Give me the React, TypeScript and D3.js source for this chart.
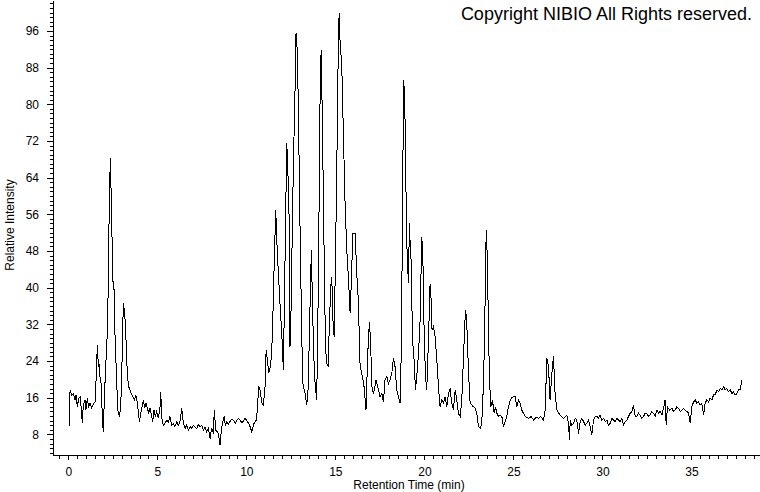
import { useEffect, useRef } from "react";
import * as d3 from "d3";

// retention time (min) and relative intensity
const retentionTime = [
  0.04, 0.10, 0.19, 0.28, 0.38, 0.43, 0.51, 0.58, 0.66, 0.71,
  0.79, 0.84, 0.94, 0.99, 1.07, 1.14, 1.22, 1.31, 1.41, 1.50,
  1.56, 1.63, 1.69, 1.74, 1.78, 1.84, 1.89, 1.93, 1.97, 2.02,
  2.10, 2.19, 2.25, 2.30, 2.36, 2.40, 2.45, 2.50, 2.57, 2.62,
  2.72, 2.78, 2.87, 2.94, 2.99, 3.09, 3.17, 3.24, 3.32, 3.39,
  3.50, 3.62, 3.71, 3.79, 3.88, 3.99, 4.07, 4.14, 4.22, 4.29,
  4.37, 4.44, 4.52, 4.59, 4.68, 4.74, 4.81, 4.89, 4.96, 5.06,
  5.15, 5.19, 5.25, 5.34, 5.43, 5.53, 5.62, 5.71, 5.81, 5.90,
  5.99, 6.09, 6.18, 6.27, 6.37, 6.46, 6.56, 6.65, 6.74, 6.84,
  6.93, 7.02, 7.11, 7.21, 7.30, 7.40, 7.50, 7.59, 7.68, 7.77,
  7.87, 7.96, 8.05, 8.15, 8.20, 8.28, 8.35, 8.43, 8.52, 8.62,
  8.75, 8.82, 8.90, 8.99, 9.08, 9.17, 9.27, 9.37, 9.46, 9.55,
  9.65, 9.74, 9.83, 9.93, 10.02, 10.11, 10.21, 10.30, 10.43, 10.55,
  10.62, 10.69, 10.77, 10.86, 10.96, 11.05, 11.11, 11.18, 11.26, 11.37,
  11.46, 11.56, 11.65, 11.74, 11.86, 11.91, 11.99, 12.08, 12.14, 12.21,
  12.27, 12.32, 12.40, 12.45, 12.49, 12.55, 12.64, 12.74, 12.79, 12.87,
  12.94, 13.02, 13.11, 13.17, 13.30, 13.39, 13.48, 13.54, 13.62, 13.65,
  13.71, 13.78, 13.86, 13.95, 14.01, 14.07, 14.14, 14.20, 14.25, 14.33,
  14.40, 14.46, 14.51, 14.59, 14.66, 14.74, 14.80, 14.85, 14.93, 15.00,
  15.08, 15.15, 15.21, 15.26, 15.36, 15.45, 15.54, 15.64, 15.73, 15.83,
  15.90, 15.98, 16.11, 16.20, 16.29, 16.39, 16.52, 16.61, 16.72, 16.82,
  16.91, 16.98, 17.05, 17.14, 17.29, 17.42, 17.51, 17.61, 17.70, 17.79,
  17.89, 17.98, 18.07, 18.17, 18.26, 18.35, 18.45, 18.54, 18.64, 18.69,
  18.75, 18.79, 18.84, 18.90, 18.95, 19.01, 19.10, 19.16, 19.20, 19.23,
  19.29, 19.35, 19.42, 19.50, 19.57, 19.67, 19.76, 19.85, 19.91, 19.98,
  20.06, 20.13, 20.19, 20.25, 20.32, 20.38, 20.43, 20.51, 20.60, 20.70,
  20.79, 20.88, 20.98, 21.07, 21.16, 21.26, 21.35, 21.44, 21.54, 21.63,
  21.73, 21.82, 21.91, 22.01, 22.10, 22.19, 22.27, 22.32, 22.38, 22.44,
  22.51, 22.57, 22.66, 22.76, 22.85, 22.94, 23.04, 23.13, 23.22, 23.32,
  23.39, 23.45, 23.49, 23.54, 23.60, 23.65, 23.73, 23.82, 23.92, 23.99,
  24.07, 24.16, 24.25, 24.35, 24.44, 24.53, 24.63, 24.72, 24.82, 24.91,
  25.00, 25.10, 25.19, 25.28, 25.38, 25.47, 25.66, 25.85, 26.00, 26.13,
  26.28, 26.41, 26.54, 26.69, 26.78, 26.88, 26.97, 27.06, 27.16, 27.25,
  27.34, 27.44, 27.62, 27.81, 28.00, 28.09, 28.15, 28.19, 28.28, 28.37,
  28.47, 28.56, 28.66, 28.75, 28.84, 28.94, 29.03, 29.12, 29.22, 29.31,
  29.40, 29.50, 29.59, 29.69, 29.78, 29.87, 29.97, 30.06, 30.15, 30.25,
  30.34, 30.43, 30.53, 30.62, 30.72, 30.81, 30.90, 31.00, 31.09, 31.18,
  31.28, 31.37, 31.46, 31.56, 31.65, 31.74, 31.84, 31.93, 32.03, 32.12,
  32.21, 32.31, 32.40, 32.49, 32.59, 32.68, 32.77, 32.87, 32.96, 33.06,
  33.15, 33.24, 33.34, 33.43, 33.52, 33.58, 33.65, 33.77, 33.90, 33.99,
  34.09, 34.18, 34.27, 34.37, 34.46, 34.55, 34.65, 34.74, 34.84, 34.93,
  35.02, 35.12, 35.21, 35.30, 35.40, 35.49, 35.58, 35.68, 35.77, 35.86,
  35.96, 36.05, 36.15, 36.24, 36.33, 36.43, 36.52, 36.61, 36.71, 36.80,
  36.90, 36.99, 37.08, 37.18, 37.27, 37.36, 37.46, 37.55, 37.64, 37.74,
  37.83,
];

const intensity = [
  9.9, 17.7, 16.6, 16.9, 15.5, 16.6, 14.0, 15.9, 16.2, 14.4,
  10.4, 14.4, 15.5, 13.3, 15.9, 14.0, 14.8, 13.7, 14.6, 15.1,
  19.9, 27.5, 22.8, 23.1, 20.6, 19.1, 14.0, 10.0, 8.6, 15.5,
  22.8, 30.0, 41.7, 58.4, 68.2, 61.5, 52.0, 41.7, 39.5, 30.0,
  19.1, 13.3, 11.8, 14.0, 19.1, 36.6, 34.4, 28.6, 20.6, 18.4,
  17.3, 16.2, 15.5, 16.6, 14.8, 10.8, 12.6, 14.0, 15.5, 13.7,
  14.8, 13.7, 12.6, 13.7, 11.9, 10.8, 13.3, 11.9, 12.9, 11.5,
  14.0, 17.3, 11.5, 10.0, 10.4, 11.1, 10.7, 11.9, 10.0, 10.4,
  9.7, 10.7, 10.0, 10.7, 13.7, 10.4, 9.3, 10.0, 8.9, 9.7,
  9.3, 10.0, 9.6, 9.3, 10.1, 9.7, 9.9, 8.9, 9.5, 8.6,
  9.3, 7.1, 9.3, 8.2, 13.3, 8.9, 8.6, 8.2, 5.7, 9.7,
  11.9, 10.0, 10.8, 10.2, 10.8, 11.3, 11.1, 10.4, 11.0, 11.5,
  11.1, 10.6, 10.8, 11.5, 11.1, 10.5, 9.7, 8.6, 10.4, 11.1,
  13.3, 18.6, 17.7, 15.0, 14.4, 18.5, 26.4, 24.2, 21.3, 23.1,
  29.3, 44.6, 57.0, 47.5, 38.8, 35.1, 30.0, 22.0, 37.3, 56.2,
  71.5, 67.1, 55.5, 27.1, 30.0, 45.3, 66.4, 83.9, 95.5, 91.1,
  73.7, 51.9, 30.0, 19.1, 16.9, 14.4, 18.4, 30.0, 43.1, 48.2,
  37.3, 25.7, 19.1, 15.5, 30.0, 51.9, 80.9, 91.9, 80.9, 59.1,
  37.3, 26.4, 23.5, 22.8, 31.5, 40.2, 42.4, 33.7, 29.3, 44.6,
  66.4, 88.2, 99.9, 94.0, 88.2, 73.7, 59.1, 48.2, 42.4, 34.4,
  41.7, 51.9, 51.9, 43.1, 37.3, 22.8, 20.6, 18.4, 13.3, 25.7,
  32.6, 28.0, 18.4, 16.9, 19.9, 17.7, 16.2, 16.9, 15.1, 19.9,
  20.6, 19.1, 19.9, 21.3, 24.6, 22.8, 17.7, 16.2, 14.8, 24.2,
  46.0, 66.4, 85.3, 80.2, 65.7, 49.7, 41.0, 54.0, 48.2, 50.4,
  37.3, 27.9, 24.2, 17.7, 20.6, 25.7, 32.9, 51.1, 47.5, 31.5,
  20.6, 17.7, 24.2, 31.5, 40.9, 37.3, 30.8, 31.5, 29.3, 24.2,
  18.4, 14.0, 15.5, 14.8, 16.2, 14.0, 16.9, 18.0, 14.8, 13.3,
  17.7, 15.5, 12.6, 11.9, 15.5, 24.2, 32.2, 35.1, 32.2, 25.7,
  19.1, 14.8, 14.4, 14.0, 13.7, 12.6, 9.7, 9.3, 10.4, 19.1,
  31.5, 48.9, 52.6, 44.6, 31.5, 20.6, 14.0, 15.5, 12.6, 14.0,
  12.6, 11.9, 12.2, 11.9, 9.7, 10.8, 11.9, 14.0, 15.5, 16.0,
  16.2, 16.2, 14.0, 15.5, 14.8, 13.3, 11.9, 11.5, 11.9, 11.1,
  11.7, 11.5, 11.9, 11.1, 13.3, 24.6, 22.8, 15.5, 21.3, 25.0,
  16.9, 13.3, 12.2, 11.5, 12.2, 10.4, 6.8, 11.1, 10.0, 10.4,
  11.5, 11.1, 8.2, 10.8, 11.5, 10.8, 10.0, 10.4, 11.1, 9.7,
  7.8, 11.1, 11.9, 11.9, 11.5, 12.2, 11.1, 11.5, 10.8, 11.1,
  10.0, 10.4, 11.5, 11.1, 10.8, 11.5, 11.1, 10.8, 11.5, 10.0,
  10.8, 11.1, 11.9, 12.6, 13.0, 14.4, 11.9, 11.9, 12.6, 12.2,
  11.5, 11.9, 12.6, 12.6, 11.9, 12.2, 13.0, 12.6, 11.9, 13.3,
  12.6, 13.0, 12.2, 13.7, 15.5, 10.0, 14.0, 13.3, 13.7, 13.0,
  13.3, 14.0, 13.7, 13.0, 13.3, 13.7, 13.3, 13.0, 12.6, 10.4,
  14.0, 15.1, 15.5, 14.8, 15.1, 14.4, 14.8, 12.2, 14.8, 15.5,
  15.1, 15.9, 15.5, 16.6, 16.6, 17.7, 17.3, 18.0, 17.7, 18.4,
  17.7, 18.0, 17.3, 17.7, 16.9, 17.3, 16.6, 16.9, 17.7, 17.7,
  19.9,
];

const xTickValues = [0, 5, 10, 15, 20, 25, 30, 35];
const yTickValues = [8, 16, 24, 32, 40, 48, 56, 64, 72, 80, 88, 96];

const FONT = "'Liberation Sans', Arial, sans-serif";

function App() {
  const ref = useRef<SVGSVGElement>(null);

  const width = 760;
  const height = 492;

  useEffect(() => {
    const svg = d3.select(ref.current);
    svg.selectAll("*").remove();

    // axis lines run from x=53 to the right edge and from y=455 to the top
    const x = d3.scaleLinear().domain([-0.86, 38.85]).range([53, 760]);
    const y = d3.scaleLinear().domain([3.5, 102.75]).range([455, 0]);

    // minor ticks, no labels
    svg.append("g")
      .attr("transform", `translate(0, ${y(3.5)})`)
      .attr("shape-rendering", "crispEdges")
      .call(d3.axisBottom(x).tickValues(d3.range(-0.5, 38.6, 0.5)).tickSize(4).tickSizeOuter(0).tickFormat(() => ""));

    svg.append("g")
      .attr("transform", `translate(${x(-0.86)}, 0)`)
      .attr("shape-rendering", "crispEdges")
      .call(d3.axisLeft(y).tickValues(d3.range(4, 103, 1)).tickSize(3).tickSizeOuter(0).tickFormat(() => ""));

    // labelled ticks
    const xAxis = svg.append("g")
      .attr("transform", `translate(0, ${y(3.5)})`)
      .attr("shape-rendering", "crispEdges")
      .call(d3.axisBottom(x).tickValues(xTickValues).tickSize(5).tickPadding(7).tickSizeOuter(0).tickFormat(d3.format("d")));

    const yAxis = svg.append("g")
      .attr("transform", `translate(${x(-0.86)}, 0)`)
      .attr("shape-rendering", "crispEdges")
      .call(d3.axisLeft(y).tickValues(yTickValues).tickSize(6).tickPadding(8).tickSizeOuter(0).tickFormat(d3.format("d")));

    [xAxis, yAxis].forEach(g => {
      g.attr("font-family", FONT).attr("font-size", 12);
      g.selectAll("text").attr("fill", "#000");
    });
    svg.selectAll(".domain").attr("stroke", "#000");
    svg.selectAll(".tick line").attr("stroke", "#000");

    // the trace, drawn aliased like the instrument export
    const line = d3.line<number>()
      .x((_, i) => x(retentionTime[i]))
      .y(d => y(d));

    svg.append("path")
      .datum(intensity)
      .attr("fill", "none")
      .attr("stroke", "#000")
      .attr("stroke-width", 1)
      .attr("shape-rendering", "crispEdges")
      .attr("d", line);

    svg.append("text")
      .attr("x", 409)
      .attr("y", 489)
      .attr("text-anchor", "middle")
      .attr("font-family", FONT)
      .attr("font-size", 12)
      .text("Retention Time (min)");

    svg.append("text")
      .attr("transform", `translate(14, 225) rotate(-90)`)
      .attr("text-anchor", "middle")
      .attr("font-family", FONT)
      .attr("font-size", 12)
      .text("Relative Intensity");

    svg.append("text")
      .attr("x", 752)
      .attr("y", 19.5)
      .attr("text-anchor", "end")
      .attr("font-family", FONT)
      .attr("font-size", 18)
      .text("Copyright NIBIO All Rights reserved.");
  }, []);

  return (
    <svg
      ref={ref}
      width={width}
      height={height}
      style={{ position: "absolute", left: 0, top: 0, background: "#fff" }}
    />
  );
}

export default App;
